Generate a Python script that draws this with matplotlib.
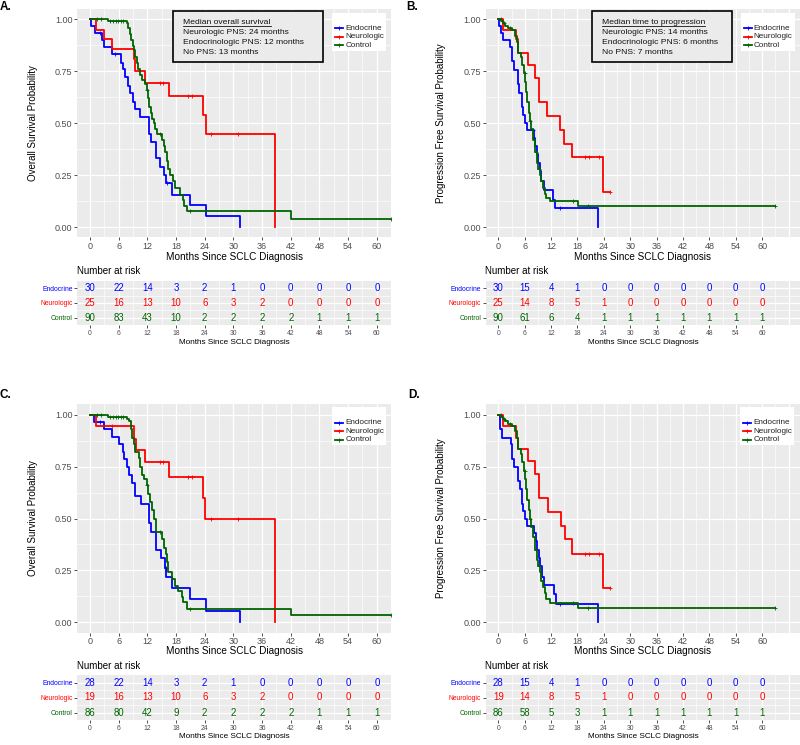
import numpy as np
import matplotlib
matplotlib.use("Agg")
import matplotlib.pyplot as plt
from matplotlib.patches import Rectangle

plt.rcParams['font.family'] = ['Liberation Sans', 'DejaVu Sans']

W, H = 800, 745

groups = ["Endocrine", "Neurologic", "Control"]
colors = ["#0000FF", "#FF0000", "#006400"]
risk_times = [0, 6, 12, 18, 24, 30, 36, 42, 48, 54, 60]

# ---- panel A: overall survival, all patients
a_endo_t = [0, 0.3, 1.0, 2.6, 3.0, 4.7, 6.4, 7.0, 7.4, 7.9, 8.4, 8.9, 9.4, 10.5, 12.4, 12.7, 13.8, 14.7, 15.4, 15.8, 17.1, 20.9, 24.3, 31.4]
a_endo_s = [1.0, 0.967, 0.933, 0.900, 0.867, 0.833, 0.790, 0.760, 0.720, 0.680, 0.645, 0.600, 0.570, 0.530, 0.450, 0.410, 0.330, 0.290, 0.250, 0.210, 0.155, 0.105, 0.053, 0.0]
a_endo_c = [2.0, 5.2, 16.2]
a_neuro_t = [0, 1.2, 2.9, 4.7, 9.2, 9.5, 11.5, 16.5, 23.7, 24.2, 38.6]
a_neuro_s = [1.0, 0.950, 0.905, 0.855, 0.810, 0.750, 0.695, 0.630, 0.540, 0.450, 0.0]
a_neuro_c = [14.6, 15.3, 20.6, 21.3, 25.4, 31.0]
a_ctrl_t = [0, 3.8, 7.7, 8.0, 8.4, 8.6, 8.9, 9.2, 9.4, 9.8, 10.1, 10.5, 10.8, 11.5, 11.9, 12.2, 12.4, 12.7, 13.0, 13.3, 13.5, 14.0, 15.1, 15.4, 15.7, 16.1, 16.4, 16.7, 17.4, 17.8, 18.8, 19.4, 19.7, 20.2, 42.0, 62.9]
a_ctrl_s = [1.0, 0.99, 0.98, 0.96, 0.93, 0.90, 0.87, 0.85, 0.82, 0.79, 0.76, 0.73, 0.71, 0.69, 0.66, 0.62, 0.58, 0.55, 0.52, 0.50, 0.47, 0.45, 0.42, 0.39, 0.36, 0.32, 0.28, 0.25, 0.22, 0.19, 0.155, 0.13, 0.10, 0.075, 0.04, 0.04]
a_ctrl_c = [1.5, 2.2, 4.2, 4.9, 5.4, 5.9, 6.4, 7.0, 12.0, 14.6, 21.0, 62.9]
a_risk_endo = [30, 22, 14, 3, 2, 1, 0, 0, 0, 0, 0]
a_risk_neuro = [25, 16, 13, 10, 6, 3, 2, 0, 0, 0, 0]
a_risk_ctrl = [90, 83, 43, 10, 2, 2, 2, 2, 1, 1, 1]

# ---- panel B: progression free survival, all patients
b_endo_t = [0, 0.15, 0.5, 1.0, 2.6, 3.0, 3.5, 4.5, 4.8, 5.3, 5.7, 6.0, 6.6, 8.1, 8.4, 8.7, 9.1, 9.4, 9.8, 10.3, 12.5, 13.0, 22.7]
b_endo_s = [1.0, 0.967, 0.933, 0.90, 0.867, 0.80, 0.755, 0.69, 0.645, 0.58, 0.54, 0.50, 0.467, 0.43, 0.39, 0.35, 0.31, 0.27, 0.22, 0.18, 0.13, 0.09, 0.0]
b_endo_c = [7.8, 14.1]
b_neuro_t = [0, 1.0, 4.0, 4.4, 6.8, 8.3, 9.3, 11.1, 14.1, 14.9, 16.8, 23.9, 25.3]
b_neuro_s = [1.0, 0.95, 0.905, 0.84, 0.78, 0.715, 0.60, 0.535, 0.465, 0.40, 0.335, 0.167, 0.167]
b_neuro_c = [0.5, 19.8, 20.6, 23.0, 25.3]
b_ctrl_t = [0, 0.5, 1.0, 1.6, 2.3, 3.0, 3.8, 4.2, 4.5, 5.1, 5.4, 5.8, 6.1, 6.4, 6.6, 6.9, 7.2, 7.5, 7.9, 8.3, 8.7, 9.1, 9.4, 9.8, 10.2, 10.6, 10.9, 11.8, 18.1, 62.9]
b_ctrl_s = [1.0, 0.99, 0.98, 0.97, 0.96, 0.95, 0.92, 0.89, 0.84, 0.82, 0.78, 0.74, 0.70, 0.65, 0.60, 0.55, 0.51, 0.47, 0.42, 0.36, 0.31, 0.28, 0.25, 0.22, 0.19, 0.16, 0.14, 0.125, 0.10, 0.10]
b_ctrl_c = [1.3, 2.6, 6.0, 7.3, 8.5, 9.2, 17.0, 20.5, 62.9]
b_risk_endo = [30, 15, 4, 1, 0, 0, 0, 0, 0, 0, 0]
b_risk_neuro = [25, 14, 8, 5, 1, 0, 0, 0, 0, 0, 0]
b_risk_ctrl = [90, 61, 6, 4, 1, 1, 1, 1, 1, 1, 1]

# ---- panel C: overall survival, subset
c_endo_t = [0, 0.9, 3.0, 4.7, 6.1, 6.8, 7.2, 7.7, 8.2, 8.8, 9.4, 10.7, 12.4, 12.7, 13.8, 14.8, 15.6, 15.9, 17.1, 20.9, 24.3, 31.4]
c_endo_s = [1.0, 0.964, 0.929, 0.893, 0.857, 0.82, 0.786, 0.75, 0.71, 0.67, 0.61, 0.57, 0.48, 0.435, 0.35, 0.31, 0.26, 0.22, 0.165, 0.11, 0.055, 0.0]
c_endo_c = [2.1, 15.8]
c_neuro_t = [0, 1.2, 9.2, 9.6, 11.4, 16.5, 23.6, 24.1, 38.6]
c_neuro_s = [1.0, 0.947, 0.885, 0.83, 0.77, 0.70, 0.60, 0.50, 0.0]
c_neuro_c = [4.7, 14.6, 15.3, 20.6, 21.3, 25.4, 31.0]
c_ctrl_t = [0, 3.8, 7.7, 8.1, 8.5, 8.8, 9.1, 9.5, 10.2, 10.5, 10.9, 11.3, 11.9, 12.2, 12.5, 12.9, 13.3, 13.8, 15.1, 15.5, 15.8, 16.2, 16.4, 17.1, 17.8, 18.5, 19.2, 19.5, 20.2, 42.0, 62.9]
c_ctrl_s = [1.0, 0.99, 0.98, 0.97, 0.93, 0.89, 0.86, 0.82, 0.79, 0.75, 0.71, 0.69, 0.66, 0.62, 0.58, 0.54, 0.50, 0.435, 0.40, 0.36, 0.33, 0.29, 0.24, 0.21, 0.175, 0.15, 0.12, 0.10, 0.065, 0.033, 0.033]
c_ctrl_c = [1.5, 2.2, 4.2, 4.9, 5.4, 5.9, 6.4, 7.0, 12.0, 14.6, 21.0, 62.9]
c_risk_endo = [28, 22, 14, 3, 2, 1, 0, 0, 0, 0, 0]
c_risk_neuro = [19, 16, 13, 10, 6, 3, 2, 0, 0, 0, 0]
c_risk_ctrl = [86, 80, 42, 9, 2, 2, 2, 2, 1, 1, 1]

# ---- panel D: progression free survival, subset
d_endo_t = [0, 0.4, 0.8, 2.9, 3.2, 3.6, 4.5, 4.9, 5.4, 5.7, 6.1, 6.6, 8.2, 8.5, 8.8, 9.2, 9.5, 9.9, 10.3, 12.6, 13.1, 22.7]
d_endo_s = [1.0, 0.93, 0.89, 0.857, 0.786, 0.75, 0.68, 0.64, 0.57, 0.535, 0.50, 0.465, 0.43, 0.39, 0.35, 0.31, 0.27, 0.22, 0.18, 0.135, 0.09, 0.0]
d_endo_c = [14.1]
d_neuro_t = [0, 1.0, 4.0, 4.4, 6.8, 8.4, 9.3, 11.3, 14.2, 15.1, 16.8, 23.9, 25.4]
d_neuro_s = [1.0, 0.947, 0.89, 0.835, 0.775, 0.715, 0.60, 0.53, 0.465, 0.40, 0.33, 0.165, 0.165]
d_neuro_c = [0.5, 19.8, 20.6, 23.0, 25.4]
d_ctrl_t = [0, 0.5, 1.0, 1.6, 2.3, 3.0, 3.8, 4.2, 4.5, 5.1, 5.4, 5.8, 6.1, 6.4, 6.6, 6.9, 7.2, 7.5, 7.9, 8.3, 8.7, 9.1, 9.4, 9.8, 10.2, 10.6, 10.9, 11.8, 18.1, 62.9]
d_ctrl_s = [1.0, 0.99, 0.98, 0.97, 0.955, 0.945, 0.92, 0.89, 0.835, 0.81, 0.77, 0.73, 0.69, 0.64, 0.59, 0.54, 0.50, 0.46, 0.41, 0.35, 0.30, 0.27, 0.24, 0.20, 0.17, 0.14, 0.11, 0.092, 0.071, 0.071]
d_ctrl_c = [1.3, 2.6, 6.0, 7.3, 8.5, 9.2, 17.0, 20.5, 62.9]
d_risk_endo = [28, 15, 4, 1, 0, 0, 0, 0, 0, 0, 0]
d_risk_neuro = [19, 14, 8, 5, 1, 0, 0, 0, 0, 0, 0]
d_risk_ctrl = [86, 58, 5, 3, 1, 1, 1, 1, 1, 1, 1]

median_a = ["Median overall survival", "Neurologic PNS: 24 months",
            "Endocrinologic PNS: 12 months", "No PNS: 13 months"]
median_b = ["Median time to progression", "Neurologic PNS: 14 months",
            "Endocrinologic PNS: 6 months", "No PNS: 7 months"]

OS_LABEL = "Overall Survival Probability"
PFS_LABEL = "Progression Free Survival Probability"
X_LABEL = "Months Since SCLC Diagnosis"

fig = plt.figure(figsize=(W / 100, H / 100), dpi=100)


def px_axes(l, t, r, b):
    return fig.add_axes([l / W, 1 - b / H, (r - l) / W, (b - t) / H])


def grey_panel(ax, xlim):
    ax.set_facecolor('#EBEBEB')
    for sp in ax.spines.values():
        sp.set_visible(False)
    ax.set_xlim(xlim)
    for x in range(0, 67, 6):
        ax.axvline(x, color='white', lw=0.9, zorder=0)
    for x in range(3, 67, 6):
        ax.axvline(x, color='white', lw=0.45, zorder=0)
    ax.set_xticks(risk_times)
    ax.tick_params(axis='both', length=2.2, width=0.6, color='#333333',
                   labelcolor='#4D4D4D', pad=1.2)


def km_panel(l, t, r, b, xlim, curves):
    ax = px_axes(l, t, r, b)
    grey_panel(ax, xlim)
    ax.set_ylim(-0.05, 1.05)
    for y in [0, 0.25, 0.5, 0.75, 1.0]:
        ax.axhline(y, color='white', lw=0.9, zorder=0)
    for y in [0.125, 0.375, 0.625, 0.875]:
        ax.axhline(y, color='white', lw=0.45, zorder=0)
    ax.set_yticks([0, 0.25, 0.5, 0.75, 1.0])
    ax.set_yticklabels(["0.00", "0.25", "0.50", "0.75", "1.00"])
    ax.tick_params(labelsize=6.5)
    for (tt, ss, cc), col in zip(curves, colors):
        ax.step(tt, ss, where='post', color=col, lw=1.3)
        idx = np.searchsorted(tt, cc, side='right') - 1
        ax.plot(cc, np.array(ss)[idx], ls='none', marker='+', ms=3.4,
                mew=0.6, color=col)
    return ax


def risk_table(l, t, r, b, xlim, rows):
    ax = px_axes(l, t, r, b)
    grey_panel(ax, xlim)
    ax.set_ylim(3.5, 0.5)
    for y in [1, 2, 3]:
        ax.axhline(y, color='white', lw=0.9, zorder=0)
    for y in [1.5, 2.5]:
        ax.axhline(y, color='white', lw=0.45, zorder=0)
    ax.set_yticks([1, 2, 3])
    ax.set_yticklabels(groups)
    ax.tick_params(labelsize=4.9)
    for lbl, col in zip(ax.get_yticklabels(), colors):
        lbl.set_color(col)
    for i, (vals, col) in enumerate(zip(rows, colors)):
        for x, v in zip(risk_times, vals):
            ax.text(x, i + 1, str(v), ha='center', va='center', color=col,
                    fontsize=6.9)
    return ax


xlim_left = (-2.66, 62.9)
xlim_right = (-2.8, 68.6)

km_panel(77.3, 8.9, 390.7, 237.4, xlim_left,
         [(a_endo_t, a_endo_s, a_endo_c), (a_neuro_t, a_neuro_s, a_neuro_c),
          (a_ctrl_t, a_ctrl_s, a_ctrl_c)])
km_panel(486, 8.9, 800, 237.4, xlim_right,
         [(b_endo_t, b_endo_s, b_endo_c), (b_neuro_t, b_neuro_s, b_neuro_c),
          (b_ctrl_t, b_ctrl_s, b_ctrl_c)])
km_panel(77.3, 404.3, 390.7, 632.7, xlim_left,
         [(c_endo_t, c_endo_s, c_endo_c), (c_neuro_t, c_neuro_s, c_neuro_c),
          (c_ctrl_t, c_ctrl_s, c_ctrl_c)])
km_panel(486, 404.3, 800, 632.7, xlim_right,
         [(d_endo_t, d_endo_s, d_endo_c), (d_neuro_t, d_neuro_s, d_neuro_c),
          (d_ctrl_t, d_ctrl_s, d_ctrl_c)])

risk_table(77.3, 281, 390.7, 325, xlim_left, [a_risk_endo, a_risk_neuro, a_risk_ctrl])
risk_table(486, 281, 800, 325, xlim_right, [b_risk_endo, b_risk_neuro, b_risk_ctrl])
risk_table(77.3, 675, 390.7, 720, xlim_left, [c_risk_endo, c_risk_neuro, c_risk_ctrl])
risk_table(486, 675, 800, 720, xlim_right, [d_risk_endo, d_risk_neuro, d_risk_ctrl])

# overlay in pixel coordinates for labels, legends and boxes
ov = fig.add_axes([0, 0, 1, 1], zorder=10)
ov.set_xlim(0, W)
ov.set_ylim(H, 0)
ov.axis('off')

for x, y, s in [(0, 6.5, "A."), (406, 6.5, "B."), (0, 395, "C."), (408, 395, "D.")]:
    ov.text(x, y, s, fontsize=8.5, fontweight='bold', ha='left', va='center')

for x, y, s in [(32.7, 123, OS_LABEL), (440.7, 123, PFS_LABEL),
                (32.7, 518.5, OS_LABEL), (440.7, 518.5, PFS_LABEL)]:
    ov.text(x, y, s, fontsize=7, rotation=90, ha='center', va='center')

for cx, ty in [(234, 256.5), (643, 256.5), (234, 651), (643, 651)]:
    ov.text(cx, ty, X_LABEL, fontsize=7.2, ha='center', va='center')
for cx, ty in [(234, 342), (643, 342), (234, 737), (643, 737)]:
    ov.text(cx, ty, X_LABEL, fontsize=5.9, ha='center', va='center')
for x, y in [(77, 270.7), (485, 270.7), (77, 666), (485, 666)]:
    ov.text(x, y, "Number at risk", fontsize=7, ha='left', va='center')

# legends
for lx, ly in [(332.3, 12.7), (740.7, 12.7), (332.3, 407.3), (740.3, 407.3)]:
    ov.add_patch(Rectangle((lx, ly), 54, 38, facecolor='white', edgecolor='none'))
    for i, (g, col) in enumerate(zip(groups, colors)):
        yy = ly + 15.6 + i * 8.4
        ov.plot([lx + 3, lx + 11], [yy, yy], color=col, lw=1.3)
        ov.plot([lx + 7], [yy], marker='+', ms=3.4, mew=0.6, color=col)
        ov.text(lx + 13, yy, g, fontsize=5.9, ha='left', va='center', color='#222222')

# median boxes
underline = []
for (bl, bt, br, bb), lines in [((173.3, 10.7, 322.7, 62), median_a),
                                 ((591.7, 11, 731.7, 62), median_b)]:
    ov.add_patch(Rectangle((bl, bt), br - bl, bb - bt, facecolor='#EBEBEB',
                           edgecolor='black', lw=1.2))
    for i, s in enumerate(lines):
        t = ov.text(bl + 10, bt + 12 + i * 9.8, s, fontsize=6.1, ha='left',
                    va='center', color='#111111')
        if i == 0:
            underline.append(t)

fig.canvas.draw()
inv = ov.transData.inverted()
for t in underline:
    bb = t.get_window_extent()
    (x0, y0), (x1, y1) = inv.transform([(bb.x0, bb.y0), (bb.x1, bb.y1)])
    ov.plot([x0, x1], [y0 - 0.3, y0 - 0.3], color='#111111', lw=0.6)

fig.savefig("out.png", dpi=100)
